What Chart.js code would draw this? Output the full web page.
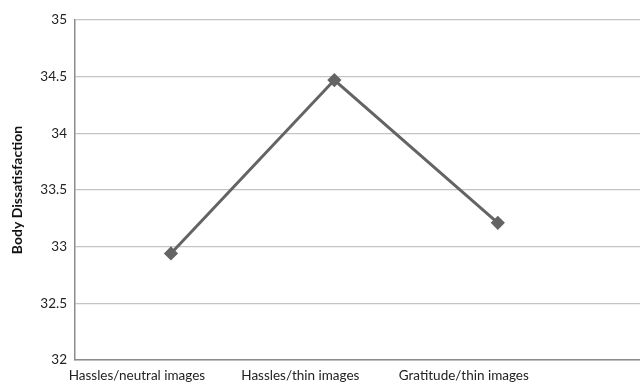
<!DOCTYPE html>
<html>
<head>
<meta charset="utf-8">
<script src="https://cdn.jsdelivr.net/npm/chart.js@4"></script>
<style>
html,body{margin:0;padding:0;background:#fff;}
#wrap{width:640px;height:384px;position:relative;}
</style>
</head>
<body>
<div id="wrap"><canvas id="c" width="640" height="384"></canvas></div>
<script>
const categories = ["Hassles/neutral images", "Hassles/thin images", "Gratitude/thin images"];
const bodyDissatisfaction = [32.94, 34.47, 33.21];
const yTicks = [32, 32.5, 33, 33.5, 34, 34.5, 35];

const points = bodyDissatisfaction.map((v, i) => ({x: i, y: v}));

new Chart(document.getElementById('c'), {
  type: 'line',
  data: {
    datasets: [{
      data: points,
      borderColor: '#646464',
      backgroundColor: '#646464',
      borderWidth: 3,
      pointStyle: 'rectRot',
      pointRadius: 5,
      pointHoverRadius: 5,
      tension: 0
    }]
  },
  options: {
    responsive: false,
    animation: false,
    layout: {autoPadding: false, padding: {top: 20, right: 0, left: 0, bottom: 0}},
    plugins: {legend: {display: false}, tooltip: {enabled: false}},
    scales: {
      x: {
        type: 'linear',
        min: -0.587,
        max: 2.87,
        afterBuildTicks: axis => { axis.ticks = categories.map((c, i) => ({value: i})); },
        afterFit: axis => { axis.height = 24; axis.paddingLeft = 0; axis.paddingRight = 0; },
        grid: {display: false, drawTicks: false},
        border: {color: '#8c8c8c', width: 1.5},
        ticks: {
          autoSkip: false,
          maxRotation: 0,
          padding: 8,
          labelOffset: -34,
          color: '#222',
          font: {family: 'Lato', size: 13.5},
          callback: v => categories[v] ?? ''
        }
      },
      y: {
        min: 32,
        max: 35,
        afterBuildTicks: axis => { axis.ticks = yTicks.map(v => ({value: v})); },
        afterFit: axis => { axis.width = 75; axis.paddingTop = 0; axis.paddingBottom = 0; },
        grid: {color: '#c4c4c4', lineWidth: 1.2, drawTicks: false},
        border: {color: '#8c8c8c', width: 1.5},
        ticks: {
          padding: 8,
          color: '#222',
          font: {family: 'Lato', size: 13.5},
          callback: v => String(v)
        },
        title: {
          display: true,
          text: 'Body Dissatisfaction',
          color: '#111',
          font: {family: 'Lato', size: 14, weight: 'bold'},
          padding: {top: 9, bottom: 4}
        }
      }
    }
  }
});
</script>
</body>
</html>
